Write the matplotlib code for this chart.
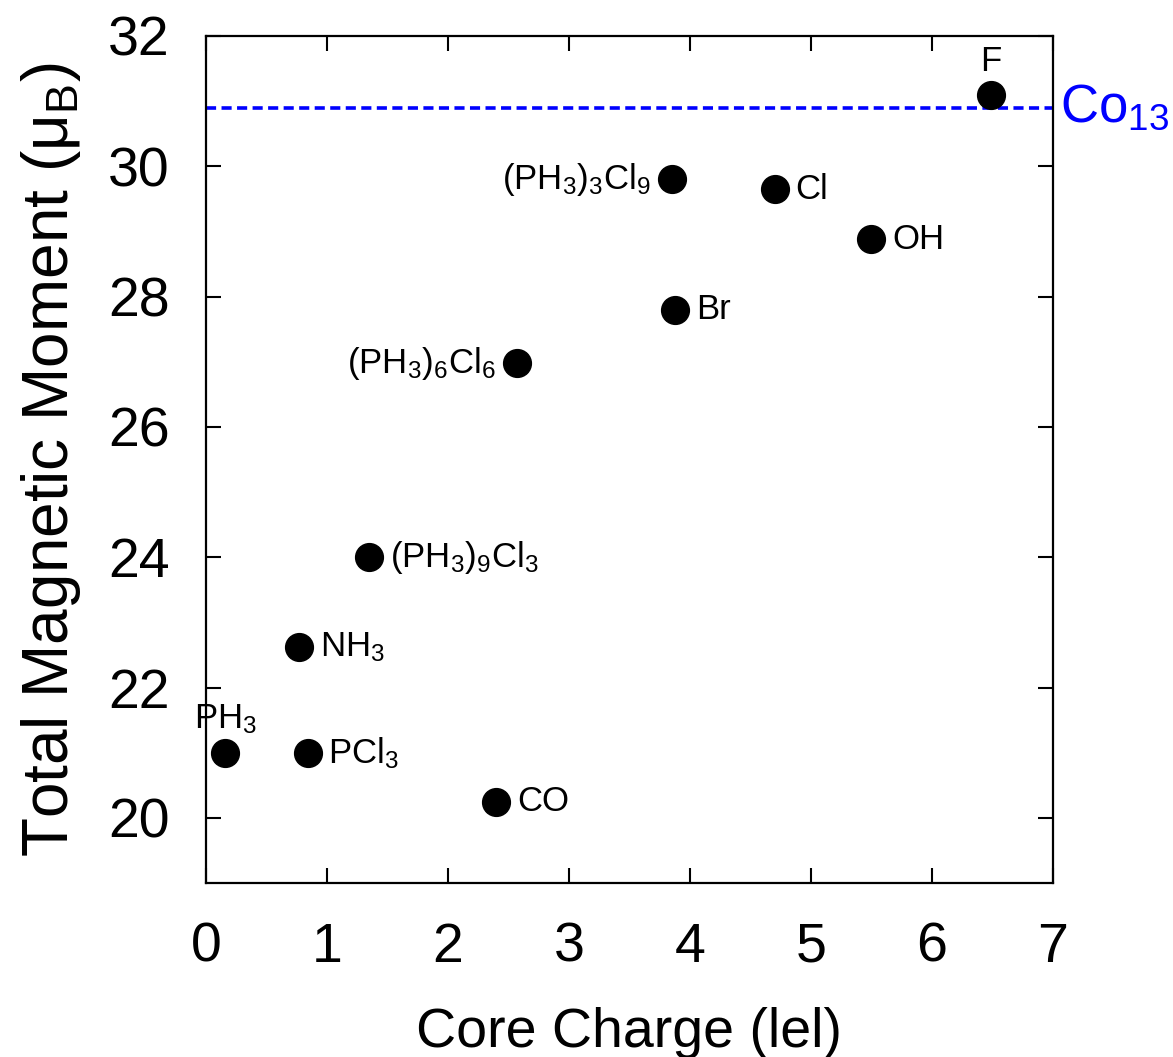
import matplotlib
matplotlib.use('Agg')
import matplotlib.pyplot as plt

plt.rcParams['font.family'] = ['Liberation Sans', 'DejaVu Sans']
plt.rcParams['mathtext.fontset'] = 'custom'
plt.rcParams['mathtext.rm'] = 'Liberation Sans'
plt.rcParams['mathtext.it'] = 'Liberation Sans'

# donnees
noms = [r'F', r'$\mathregular{(PH_3)_3Cl_9}$', r'Cl', r'OH', r'Br',
        r'$\mathregular{(PH_3)_6Cl_6}$', r'$\mathregular{(PH_3)_9Cl_3}$',
        r'$\mathregular{NH_3}$', r'$\mathregular{PH_3}$', r'$\mathregular{PCl_3}$', r'CO']
charge = [6.49, 3.85, 4.70, 5.50, 3.88, 2.57, 1.35, 0.77, 0.16, 0.84, 2.40]
moment = [31.1, 29.8, 29.65, 28.88, 27.8, 26.98, 24.0, 22.62, 21.0, 21.0, 20.25]
# position du texte : d = droite, g = gauche, h = haut
place = ['h', 'g', 'd', 'd', 'd', 'g', 'd', 'd', 'h', 'd', 'd']
co13 = 30.9

fig = plt.figure(figsize=(11.73, 10.57), dpi=100)
ax = fig.add_axes([0.1756, 0.1646, 0.722, 0.8014])

ax.axhline(co13, color='#0000ff', ls=(0, (2.8, 1.5)), lw=2.6, zorder=1)
ax.plot(charge, moment, 'o', color='black', ms=20, zorder=3)

for n, x, y, p in zip(noms, charge, moment, place):
    if p == 'd':
        ax.annotate(n, (x, y), xytext=(15, 0), textcoords='offset points',
                    ha='left', va='center', fontsize=25)
    elif p == 'g':
        ax.annotate(n, (x, y), xytext=(-15, 0), textcoords='offset points',
                    ha='right', va='center', fontsize=25)
    else:
        ax.annotate(n, (x, y), xytext=(0, 12), textcoords='offset points',
                    ha='center', va='bottom', fontsize=25)

ax.text(1.008, co13, r'$\mathregular{Co_{13}}$', transform=ax.get_yaxis_transform(),
        color='#0000ff', fontsize=38, ha='left', va='center', clip_on=False)

ax.set_xlim(0, 7)
ax.set_ylim(19, 32)
ax.set_xticks(range(0, 8))
ax.set_yticks(range(20, 33, 2))
ax.tick_params(direction='in', length=11, width=1.5, top=True, right=True,
               labelsize=40)
ax.tick_params(axis='x', pad=28)
ax.tick_params(axis='y', pad=26)
for s in ax.spines.values():
    s.set_linewidth(1.6)

ax.set_xlabel('Core Charge (lel)', fontsize=40, labelpad=24)
ax.set_ylabel(r'Total Magnetic Moment ($\mathregular{\mu_B}$)', fontsize=46, labelpad=18)

plt.savefig('out.png', dpi=100)
